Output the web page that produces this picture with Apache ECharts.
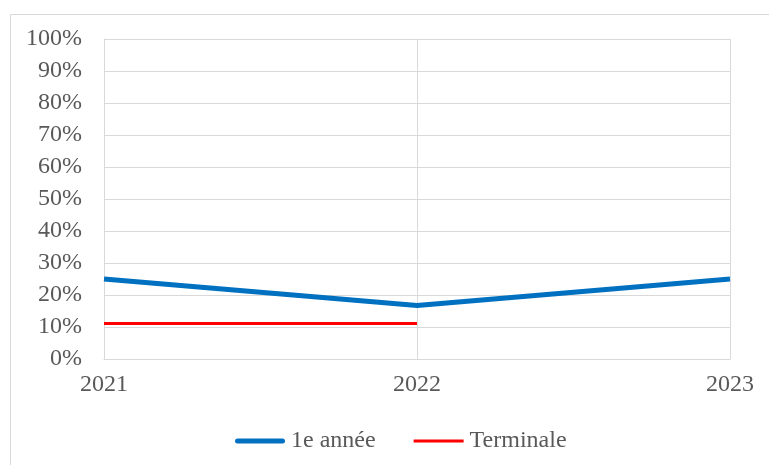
<!DOCTYPE html>
<html><head><meta charset="utf-8">
<script src="https://cdn.jsdelivr.net/npm/echarts@6/dist/echarts.min.js"></script>
<style>html,body{margin:0;padding:0;background:#fff}#c{width:769px;height:465px}</style>
</head><body><div id="c"></div>
<script>
var categories = ['2021', '2022', '2023'];
var premiereAnnee = [25, 16.7, 25];
var terminale = [11.1, 11.1, null];
var seriesNames = ['1e année', 'Terminale'];

var chart = echarts.init(document.getElementById('c'), null, {renderer: 'canvas'});
var font = 'Liberation Serif';
chart.setOption({
  animation: false,
  backgroundColor: '#fff',
  graphic: [{
    type: 'rect', left: 8, top: 12, z: -1,
    shape: {width: 800, height: 500},
    style: {fill: 'none', stroke: '#d9d9d9', lineWidth: 1}
  }],
  grid: {left: 104, top: 39, width: 626, height: 320, containLabel: false},
  xAxis: {
    type: 'category', data: categories, boundaryGap: false,
    axisLine: {show: true, lineStyle: {color: '#d9d9d9', width: 1}},
    axisTick: {show: false},
    splitLine: {show: true, lineStyle: {color: '#d9d9d9', width: 1}},
    axisLabel: {color: '#595959', fontFamily: font, fontSize: 24, margin: 14}
  },
  yAxis: {
    type: 'value', min: 0, max: 100, interval: 10,
    axisLine: {show: true, lineStyle: {color: '#d9d9d9', width: 1}},
    axisTick: {show: false},
    splitLine: {show: true, lineStyle: {color: '#d9d9d9', width: 1}},
    axisLabel: {color: '#595959', fontFamily: font, fontSize: 24, margin: 22, formatter: '{value}%'}
  },
  legend: {
    top: 424, left: 230, itemGap: 38, itemWidth: 50, itemHeight: 5,
    textStyle: {color: '#595959', fontFamily: font, fontSize: 24, padding: [0, 0, 0, 1]},
    data: [
      {name: seriesNames[0], icon: 'path://M2.5,0 H47.5 A2.5,2.5 0 0 1 47.5,5 H2.5 A2.5,2.5 0 0 1 2.5,0 Z', itemStyle: {color: '#0070C0'}},
      {name: seriesNames[1], icon: 'path://M0,0 H50 V3 H0 Z', itemStyle: {color: '#FF0000'}}
    ]
  },
  series: [
    {name: seriesNames[0], type: 'line', data: premiereAnnee, showSymbol: false, symbol: 'none',
     lineStyle: {color: '#0070C0', width: 5}, itemStyle: {color: '#0070C0'}},
    {name: seriesNames[1], type: 'line', data: terminale, showSymbol: false, symbol: 'none',
     lineStyle: {color: '#FF0000', width: 3}, itemStyle: {color: '#FF0000'}}
  ]
});
</script></body></html>
